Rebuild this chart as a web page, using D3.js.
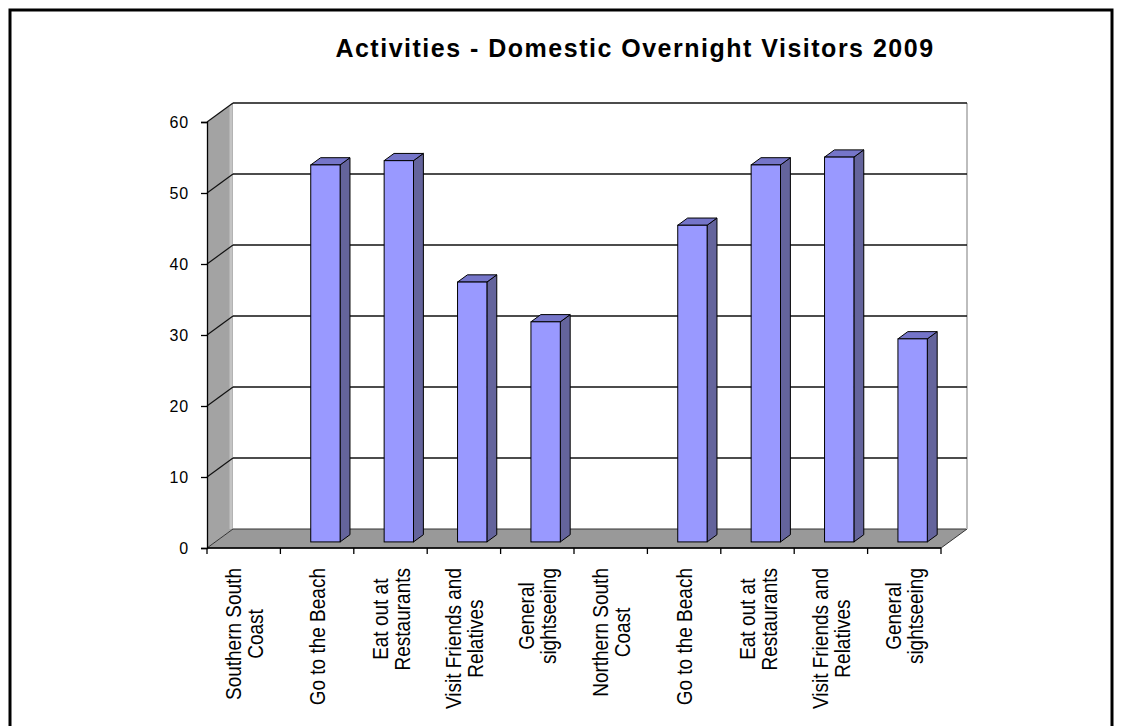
<!DOCTYPE html>
<html>
<head>
<meta charset="utf-8">
<script src="https://cdn.jsdelivr.net/npm/d3@7"></script>
<style>
  html, body { margin: 0; padding: 0; background: #fff; }
  svg { display: block; font-family: Arial, "Liberation Sans", sans-serif; }
</style>
</head>
<body>
<svg id="chart" width="1121" height="726"></svg>
<script>
// Activities of domestic overnight visitors, 2009 (percent)
const categories = [
  "Southern South Coast", "Go to the Beach (S)", "Eat out at Restaurants (S)",
  "Visit Friends and Relatives (S)", "General sightseeing (S)",
  "Northern South Coast", "Go to the Beach (N)", "Eat out at Restaurants (N)",
  "Visit Friends and Relatives (N)", "General sightseeing (N)"
];
const categoryLabels = [
  ["Southern South", "Coast"], ["Go to the Beach"], ["Eat out at", "Restaurants"],
  ["Visit Friends and", "Relatives"], ["General", "sightseeing"],
  ["Northern South", "Coast"], ["Go to the Beach"], ["Eat out at", "Restaurants"],
  ["Visit Friends and", "Relatives"], ["General", "sightseeing"]
];
const values = [null, 53.1, 53.7, 36.6, 31.0, null, 44.6, 53.1, 54.2, 28.6];
const yTicks = [0, 10, 20, 30, 40, 50, 60];
const title = "Activities - Domestic Overnight Visitors 2009";

const svg = d3.select("#chart");

// plot geometry (front plane) and 3-D depth of the walls
const x0 = 207, x1 = 941, yBase = 548, yTop = 122;
const DX = 26, DY = -19;

const x = d3.scaleBand().domain(categories).range([x0, x1]).paddingInner(0).paddingOuter(0);
const y = d3.scaleLinear().domain([0, 60]).range([yBase, yTop]);

// outer frame
svg.append("rect").attr("x", 10).attr("y", 10).attr("width", 1102).attr("height", 760)
  .attr("fill", "#fff").attr("stroke", "#000").attr("stroke-width", 3);

// title
svg.append("text").attr("x", 635).attr("y", 57).attr("text-anchor", "middle")
  .attr("font-size", 25).attr("font-weight", "bold").attr("letter-spacing", 1.5)
  .attr("fill", "#000").text(title);

const pts = a => a.map(p => p.join(",")).join(" ");

// back wall
svg.append("polygon")
  .attr("points", pts([[x0 + DX, y(60) + DY], [x1 + DX, y(60) + DY], [x1 + DX, y(0) + DY], [x0 + DX, y(0) + DY]]))
  .attr("fill", "#fff");

// side wall (left)
svg.append("polygon")
  .attr("points", pts([[x0, y(0)], [x0, y(60)], [x0 + DX, y(60) + DY], [x0 + DX, y(0) + DY]]))
  .attr("fill", "#a3a3a3");
svg.append("line")
  .attr("x1", x0 + DX - 2).attr("x2", x0 + DX - 2)
  .attr("y1", y(60) + DY + 2).attr("y2", y(0) + DY)
  .attr("stroke", "#c4c4c4").attr("stroke-width", 3);

// floor
svg.append("polygon")
  .attr("points", pts([[x0, y(0)], [x1, y(0)], [x1 + DX, y(0) + DY], [x0 + DX, y(0) + DY]]))
  .attr("fill", "#999").attr("stroke", "#333").attr("stroke-width", 1);

// right edge of back wall
svg.append("line")
  .attr("x1", x1 + DX).attr("x2", x1 + DX)
  .attr("y1", y(60) + DY).attr("y2", y(0) + DY)
  .attr("stroke", "#bdbdbd").attr("stroke-width", 2);

// gridlines on back wall and side wall
yTicks.filter(t => t > 0).forEach(t => {
  svg.append("line")
    .attr("x1", x0 + DX).attr("x2", x1 + DX)
    .attr("y1", y(t) + DY).attr("y2", y(t) + DY)
    .attr("stroke", "#111").attr("stroke-width", 1.3);
  svg.append("line")
    .attr("x1", x0).attr("x2", x0 + DX)
    .attr("y1", y(t)).attr("y2", y(t) + DY)
    .attr("stroke", "#111").attr("stroke-width", 1.2);
});

// y axis
const yAxis = d3.axisLeft(y).tickValues(yTicks).tickSize(6).tickPadding(12).tickFormat(d3.format("d"));
const gy = svg.append("g").attr("transform", `translate(${x0},0)`).call(yAxis);
gy.attr("font-size", 16).attr("font-family", "Arial, 'Liberation Sans', sans-serif");
gy.select(".domain").attr("stroke", "#000").attr("stroke-width", 1.3);
gy.selectAll(".tick line").attr("stroke", "#000").attr("stroke-width", 1.3);
gy.selectAll(".tick text").attr("fill", "#000").attr("letter-spacing", 0.8);

// x axis line and ticks at category boundaries
const xAxisG = svg.append("g");
xAxisG.append("line").attr("x1", x0).attr("x2", x1).attr("y1", yBase).attr("y2", yBase)
  .attr("stroke", "#000").attr("stroke-width", 1.3);
const bounds = categories.map(c => x(c)).concat([x1]);
xAxisG.selectAll("line.tick").data(bounds).join("line").attr("class", "tick")
  .attr("x1", d => d).attr("x2", d => d).attr("y1", yBase).attr("y2", yBase + 6)
  .attr("stroke", "#000").attr("stroke-width", 1.3);

// bars: front face, top and right side, set back into the depth of the floor
const f1 = 0.32, f2 = 0.70;
const barW = x.bandwidth() / 2.5;
const bdx = DX * (f2 - f1), bdy = DY * (f2 - f1);
const barG = svg.append("g");
categories.forEach((c, i) => {
  const v = values[i];
  if (v == null) return;
  const left = x(c) + (x.bandwidth() - barW) / 2 + DX * f1;
  const right = left + barW;
  const top = y(v) + DY * f1;
  const bottom = y(0) + DY * f1;
  barG.append("polygon")
    .attr("points", pts([[right, top], [right + bdx, top + bdy], [right + bdx, bottom + bdy], [right, bottom]]))
    .attr("fill", "#64649c").attr("stroke", "#000").attr("stroke-width", 1).attr("stroke-linejoin", "round");
  barG.append("polygon")
    .attr("points", pts([[left, top], [left + bdx, top + bdy], [right + bdx, top + bdy], [right, top]]))
    .attr("fill", "#7575c9").attr("stroke", "#000").attr("stroke-width", 1).attr("stroke-linejoin", "round");
  barG.append("rect")
    .attr("x", left).attr("y", top).attr("width", barW).attr("height", bottom - top)
    .attr("fill", "#9999ff").attr("stroke", "#000").attr("stroke-width", 1);
});

// rotated category labels
const labelTop = 568, lineH = 22, fs = 19, vScale = 1.18;
const measure = svg.append("text").attr("font-size", fs).attr("visibility", "hidden");
const widthOf = s => { measure.text(s); return measure.node().getComputedTextLength(); };
categories.forEach((c, i) => {
  const lines = categoryLabels[i];
  const maxW = d3.max(lines, widthOf);
  const cx = x(c) + x.bandwidth() / 2;
  const cy = labelTop + maxW / 2;
  const g = svg.append("g").attr("transform", `translate(${cx},${cy}) rotate(-90) scale(1,${vScale})`);
  lines.forEach((s, j) => {
    g.append("text")
      .attr("x", 0).attr("y", (j - (lines.length - 1) / 2) * lineH / vScale)
      .attr("dy", "0.36em").attr("text-anchor", "middle")
      .attr("font-size", fs).attr("fill", "#000").text(s);
  });
});
measure.remove();
</script>
</body>
</html>
